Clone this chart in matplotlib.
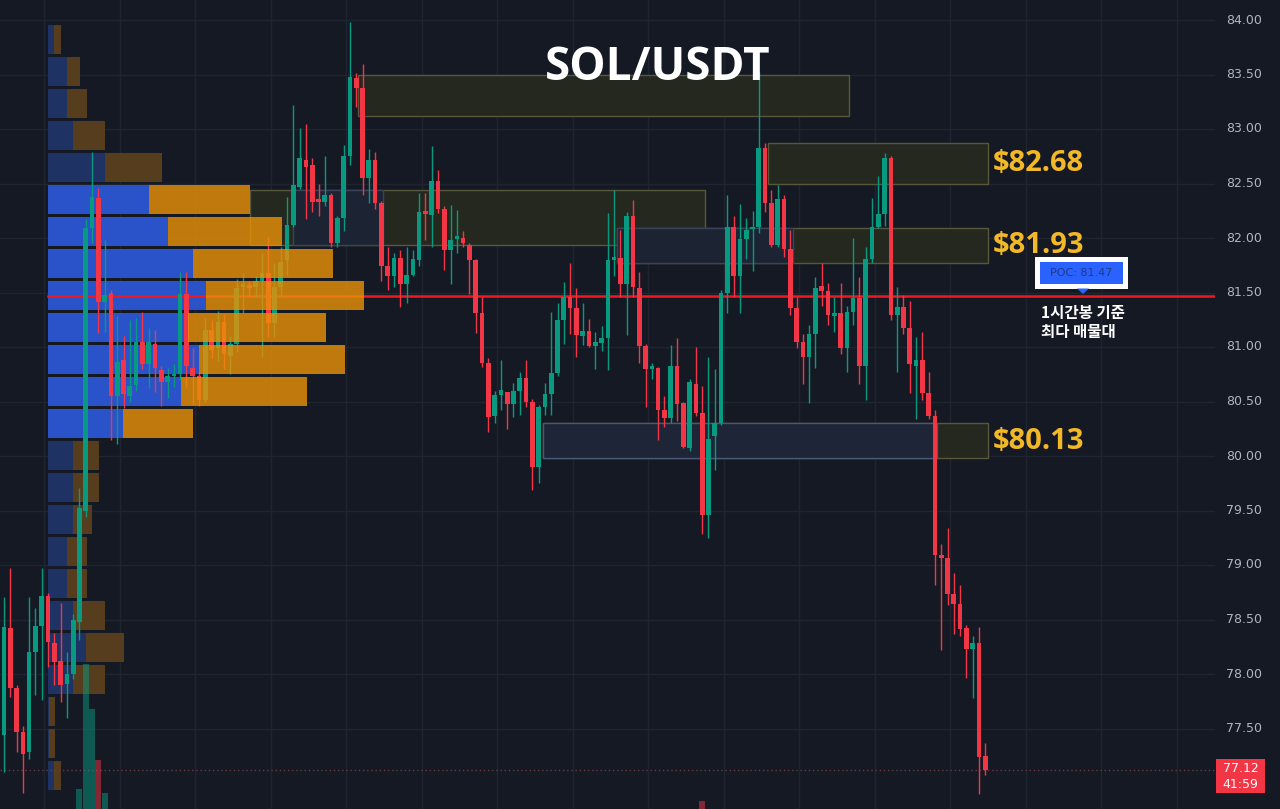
import matplotlib
matplotlib.use("Agg")
import matplotlib.pyplot as plt
import numpy as np
from matplotlib.patches import Rectangle, Polygon
from matplotlib import font_manager

# ---------------- data ----------------
opens = [77.44, 78.42, 77.87, 77.47, 77.28, 78.20, 78.44, 78.72, 78.28, 78.12,
         77.91, 78.00, 78.48, 79.50, 82.09, 82.37, 81.41, 81.50, 80.55, 80.88,
         80.55, 80.65, 81.05, 80.84, 81.03, 80.79, 80.68, 80.73, 80.75, 81.49,
         80.81, 80.73, 80.51, 81.16, 80.99, 81.23, 80.92, 81.03, 81.55, 81.57,
         81.55, 81.61, 81.68, 81.22, 81.55, 81.80, 82.12, 82.47, 82.72, 82.67,
         82.35, 82.33, 82.39, 81.95, 82.18, 82.75, 83.47, 83.38, 82.55, 82.72,
         82.32, 81.74, 81.65, 81.82, 81.58, 81.66, 81.80, 82.24, 82.21, 82.52,
         82.27, 81.89, 81.99, 82.00, 81.94, 81.80, 81.31, 80.85, 80.37, 80.56,
         80.59, 80.48, 80.60, 80.72, 80.50, 79.90, 80.45, 80.57, 80.76, 81.25,
         81.46, 81.36, 81.10, 81.15, 81.01, 81.04, 81.08, 81.80, 81.82, 81.58,
         82.20, 81.54, 81.01, 80.80, 80.81, 80.42, 80.35, 80.83, 80.49, 80.07,
         80.66, 80.39, 79.46, 80.18, 80.30, 81.50, 82.10, 81.65, 81.99, 82.08,
         82.10, 82.83, 82.32, 81.94, 82.36, 81.90, 81.36, 81.05, 80.91, 81.12,
         81.56, 81.51, 81.28, 81.31, 80.99, 81.32, 81.45, 80.83, 81.81, 82.10,
         82.22, 82.73, 81.29, 81.37, 81.17, 80.83, 80.88, 80.58, 80.37, 79.09,
         79.06, 78.73, 78.64, 78.42, 78.23, 78.28, 77.25]
highs = [78.71, 78.97, 77.90, 77.52, 78.71, 78.61, 78.97, 78.74, 78.38, 78.65,
         78.20, 78.55, 79.71, 82.17, 82.79, 82.46, 81.98, 81.52, 81.28, 81.10,
         81.25, 81.27, 81.32, 81.17, 81.16, 80.83, 80.81, 80.84, 81.69, 81.69,
         80.99, 80.77, 81.27, 81.25, 81.33, 81.30, 81.10, 81.62, 81.68, 81.61,
         81.65, 81.86, 82.01, 81.77, 81.92, 82.38, 83.22, 83.01, 83.05, 82.73,
         82.50, 82.75, 82.41, 82.20, 82.85, 83.98, 83.51, 83.60, 82.82, 82.79,
         82.34, 81.92, 81.86, 81.89, 81.92, 81.89, 82.41, 82.41, 82.84, 82.62,
         82.29, 82.30, 82.26, 82.06, 81.95, 81.81, 81.46, 80.90, 80.60, 80.88,
         80.59, 80.67, 80.77, 80.88, 80.52, 80.47, 80.67, 81.32, 81.40, 81.60,
         81.77, 81.54, 81.40, 81.26, 81.14, 81.19, 82.23, 82.44, 82.07, 82.24,
         82.35, 81.69, 81.03, 80.85, 80.82, 80.55, 81.02, 81.08, 80.50, 80.71,
         81.00, 80.64, 80.91, 80.80, 81.52, 82.39, 82.20, 82.31, 82.18, 82.25,
         83.52, 82.87, 82.44, 82.49, 82.39, 82.07, 81.46, 81.12, 81.20, 81.64,
         81.77, 81.59, 81.46, 81.59, 81.38, 82.00, 81.64, 81.92, 82.37, 82.57,
         82.78, 82.75, 81.55, 81.48, 81.42, 81.09, 81.14, 80.77, 80.42, 79.19,
         79.34, 78.93, 78.82, 78.45, 78.35, 78.43, 77.37]
lows = [77.10, 77.79, 77.28, 76.91, 77.22, 77.81, 77.76, 78.06, 77.90, 77.74,
        77.60, 77.95, 78.31, 79.44, 81.95, 81.13, 81.14, 80.15, 80.11, 80.44,
        80.50, 80.60, 80.80, 80.62, 80.59, 80.46, 80.53, 80.63, 80.70, 80.63,
        80.48, 80.46, 80.50, 80.90, 80.87, 80.80, 80.75, 80.95, 81.31, 81.46,
        81.46, 80.91, 81.09, 81.09, 81.46, 81.65, 82.10, 82.45, 82.17, 82.24,
        82.20, 82.29, 81.92, 81.92, 82.06, 82.67, 83.20, 82.39, 82.32, 82.27,
        81.61, 81.52, 81.55, 81.37, 81.40, 81.65, 81.74, 81.98, 81.92, 82.23,
        81.71, 81.58, 81.86, 81.92, 81.49, 81.13, 80.82, 80.22, 80.30, 80.42,
        80.25, 80.36, 80.38, 80.45, 79.69, 79.75, 80.38, 80.38, 80.73, 81.03,
        81.12, 80.91, 81.02, 81.00, 80.80, 80.96, 80.79, 81.65, 81.46, 81.11,
        81.46, 80.85, 80.45, 80.71, 80.15, 80.27, 80.30, 80.32, 80.07, 80.05,
        80.37, 79.28, 79.25, 79.87, 80.28, 81.31, 81.46, 81.31, 81.81, 81.70,
        82.05, 82.24, 81.92, 81.92, 81.83, 81.29, 80.99, 80.66, 80.49, 80.81,
        81.38, 81.20, 81.14, 80.94, 80.77, 81.20, 80.66, 80.51, 81.77, 82.09,
        82.11, 81.25, 80.77, 81.12, 80.58, 80.34, 80.51, 80.34, 78.82, 78.22,
        78.63, 78.37, 78.35, 77.96, 77.78, 76.90, 77.07]
closes = [78.43, 77.87, 77.47, 77.27, 78.20, 78.44, 78.72, 78.29, 78.11, 77.90,
          78.00, 78.50, 79.52, 82.09, 82.38, 81.41, 81.48, 80.55, 80.86, 80.57,
          80.64, 81.05, 80.84, 81.05, 80.81, 80.68, 80.73, 80.75, 81.49, 80.83,
          80.73, 80.51, 81.16, 80.97, 81.23, 80.94, 81.03, 81.54, 81.58, 81.54,
          81.61, 81.68, 81.22, 81.55, 81.78, 82.12, 82.49, 82.73, 82.65, 82.33,
          82.33, 82.39, 81.95, 82.18, 82.75, 83.48, 83.38, 82.55, 82.72, 82.32,
          81.74, 81.65, 81.82, 81.58, 81.66, 81.81, 82.24, 82.22, 82.52, 82.27,
          81.89, 81.98, 82.01, 81.95, 81.80, 81.31, 80.85, 80.36, 80.56, 80.61,
          80.48, 80.60, 80.72, 80.50, 79.90, 80.45, 80.57, 80.76, 81.25, 81.46,
          81.36, 81.11, 81.15, 81.01, 81.05, 81.08, 81.80, 81.83, 81.58, 82.20,
          81.55, 81.01, 80.80, 80.83, 80.42, 80.35, 80.83, 80.48, 80.08, 80.68,
          80.39, 79.46, 80.16, 80.30, 81.50, 82.10, 81.65, 81.99, 82.07, 82.10,
          82.83, 82.32, 81.94, 82.36, 81.90, 81.36, 81.05, 80.91, 81.12, 81.54,
          81.51, 81.29, 81.31, 80.99, 81.32, 81.45, 80.83, 81.81, 82.10, 82.22,
          82.73, 81.29, 81.37, 81.17, 80.84, 80.88, 80.58, 80.37, 79.09, 79.06,
          78.73, 78.64, 78.41, 78.23, 78.28, 77.24, 77.12]

# visible volume bars (candle index -> volume)
vol_index = [12, 13, 14, 15, 16, 111]
vol_value = [20, 145, 100, 49, 16, 8]

# volume profile (top row first): buy and sell volume per price row
profile_high = 83.97
profile_low = 76.92
profile_buy = [6, 19, 19, 25, 57, 101, 120, 145, 158, 140, 151, 133, 75,
               25, 25, 25, 19, 19, 25, 38, 25, 1, 1, 6]
profile_sell = [7, 13, 20, 32, 57, 101, 114, 140, 158, 138, 146, 126, 70,
                26, 26, 19, 20, 20, 32, 38, 32, 6, 6, 7]
va_high, va_low = 82.50, 80.10
poc_price = 81.47

# zones: (start index, end index, low, high, kind)
zones = [
    (56.3, 134.3, 83.12, 83.50, "olive"),
    (39.1, 111.4, 81.94, 82.44, "olive"),
    (45.9, 60.3, 81.94, 82.44, "blue"),
    (121.5, 156.4, 82.50, 82.87, "olive"),
    (97.5, 156.4, 81.77, 82.09, "olive"),
    (97.5, 125.4, 81.77, 82.09, "blue"),
    (85.7, 156.4, 79.98, 80.30, "olive"),
    (85.7, 148.3, 79.98, 80.30, "blue2"),
]
zone_labels = [("$82.68", 82.68), ("$81.93", 81.93), ("$80.13", 80.13)]

price_ticks = [84.00, 83.50, 83.00, 82.50, 82.00, 81.50, 81.00, 80.50,
               80.00, 79.50, 79.00, 78.50, 78.00, 77.50]
last_price = "77.12"
countdown = "41:59"
title = "SOL/USDT"
poc_text = "POC: 81.47"
note_text = "1시간봉 기준\n최다 매물대"

# ---------------- style ----------------
def pick_bold_family():
    for fam in ["Open Sans", "Noto Sans", "Roboto", "Lato", "DejaVu Sans"]:
        try:
            fp = font_manager.FontProperties(family=fam, weight="bold")
            path = font_manager.findfont(fp, fallback_to_default=False)
            f = font_manager.get_font(path)
            if "bold" in f.style_name.lower() or "bold" in path.lower():
                return fam
        except Exception:
            pass
    return "DejaVu Sans"

BOLD_FAM = pick_bold_family()

BG = "#151924"
GRID = "#1f2431"
UP = "#089981"
DN = "#f23645"
W, H = 1280, 809
PX = 6.29            # pixels per candle
X0 = 4               # pixel of candle 0
Y_TOP, Y_PER = 84.0, 109.0  # price at pixel 20, px per 1.0

def k_of(px):
    return (px - X0) / PX

def p_of(py):
    return Y_TOP - (py - 20) / Y_PER

fig = plt.figure(figsize=(W / 100, H / 100), dpi=100, facecolor=BG)
ax = fig.add_axes([0, 0, 1215 / W, 1])
ax.set_facecolor(BG)
ax.set_xlim(k_of(0), k_of(1215))
ax.set_ylim(p_of(809), p_of(0))
for s in ax.spines.values():
    s.set_visible(False)
ax.set_xticks([])
ax.set_yticks([])

# grid
for p in price_ticks:
    ax.axhline(p, color=GRID, lw=1, zorder=0)
for n in range(16):
    ax.axvline(k_of(44 + 75.5 * n), color=GRID, lw=1, zorder=0)

# zones
zstyle = {
    "olive": dict(fc="#25281f", ec="#58573b"),
    "blue": dict(fc="#1c2333", ec="#39435a"),
    "blue2": dict(fc="#1d2536", ec="#4a5877"),
}
for x0, x1, lo, hi, kind in zones:
    st = zstyle[kind]
    ax.add_patch(Rectangle((x0, lo), x1 - x0, hi - lo, facecolor=st["fc"],
                           edgecolor=st["ec"], lw=1, zorder=0.6))
for txt, p in zone_labels:
    ax.text(k_of(993), p, txt, color="#f2b826", fontsize=21,
            fontweight="bold", family=BOLD_FAM, va="center", ha="left",
            zorder=6)

# volume profile
n_rows = len(profile_buy)
pitch = (profile_high - profile_low) / n_rows
row_centers = profile_high - pitch * (np.arange(n_rows) + 0.5)
left0 = k_of(48)
buy = np.array(profile_buy) / PX
sell = np.array(profile_sell) / PX
in_va = (row_centers <= va_high) & (row_centers >= va_low)
ax.barh(row_centers, buy, left=left0, height=pitch * 0.91,
        color=np.where(in_va, "#2a53c9", "#1e3263"), zorder=1)
ax.barh(row_centers[~in_va], sell[~in_va], left=left0 + buy[~in_va],
        height=pitch * 0.91, color="#553d1d", zorder=1)
ax.barh(row_centers[in_va], sell[in_va], left=left0 + buy[in_va],
        height=pitch * 0.91, color="#eb9206", alpha=0.8, zorder=4)

# POC line
ax.plot([left0, k_of(1215)], [poc_price, poc_price], color="#ee1a1f",
        lw=1.8, zorder=2.5)

# volume bars at bottom
ymin = p_of(809)
vcol = [UP if closes[i] >= opens[i] else DN for i in vol_index]
ax.bar(vol_index, np.array(vol_value) / Y_PER, bottom=ymin, width=0.95,
       color=vcol, alpha=0.5, zorder=2)

# candles
idx = np.arange(len(opens))
o = np.array(opens); c = np.array(closes)
hi_ = np.array(highs); lo_ = np.array(lows)
col = np.where(c >= o, UP, DN)
ax.vlines(idx, lo_, hi_, colors=col, lw=1, zorder=3)
body = np.maximum(np.abs(c - o), 0.025)
ax.bar(idx, body, bottom=np.minimum(o, c), width=0.74, color=col, zorder=3)

# current price line
ax.axhline(float(last_price), color="#6a3a46", lw=1, ls=(0, (1, 2)), zorder=1.5)

# right axis labels
for p in price_ticks:
    ax.text(k_of(1226), p, f"{p:.2f}", color="#b2b5be", fontsize=9,
            va="center", ha="left", clip_on=False, zorder=6)
ax.add_patch(Rectangle((k_of(1216), p_of(793)), k_of(1265) - k_of(1216),
                       p_of(759) - p_of(793), facecolor=DN, edgecolor="none",
                       clip_on=False, zorder=7))
ax.text(k_of(1240.5), p_of(768.5), last_price, color="white", fontsize=9,
        ha="center", va="center", clip_on=False, zorder=8)
ax.text(k_of(1240.5), p_of(784.5), countdown, color="white", fontsize=9,
        ha="center", va="center", clip_on=False, zorder=8)

# POC label
ax.add_patch(Rectangle((k_of(1035), p_of(289)), k_of(1128) - k_of(1035),
                       p_of(257) - p_of(289), facecolor="white",
                       edgecolor="none", zorder=7))
ax.add_patch(Rectangle((k_of(1040), p_of(284)), k_of(1123) - k_of(1040),
                       p_of(262) - p_of(284), facecolor="#2962ff",
                       edgecolor="none", zorder=7.5))
ax.add_patch(Polygon([(k_of(1077), p_of(288.5)), (k_of(1089), p_of(288.5)),
                      (k_of(1083), p_of(294))], closed=True,
                     facecolor="#2962ff", edgecolor="none", zorder=8))
ax.text(k_of(1081.5), p_of(273), poc_text, color="#1f3a86", fontsize=8,
        ha="center", va="center", zorder=8)
ax.text(k_of(1041), p_of(305), note_text, color="white", fontsize=11.2,
        family=["Noto Sans CJK KR", "DejaVu Sans"], fontweight="bold",
        ha="left", va="top", linespacing=1.2, zorder=8)

# title
fig.text(658 / W, 1 - 67 / H, title, color="white", fontsize=33,
         fontweight="bold", family=BOLD_FAM, ha="center", va="center")

fig.savefig("out.png", dpi=100, facecolor=BG)
